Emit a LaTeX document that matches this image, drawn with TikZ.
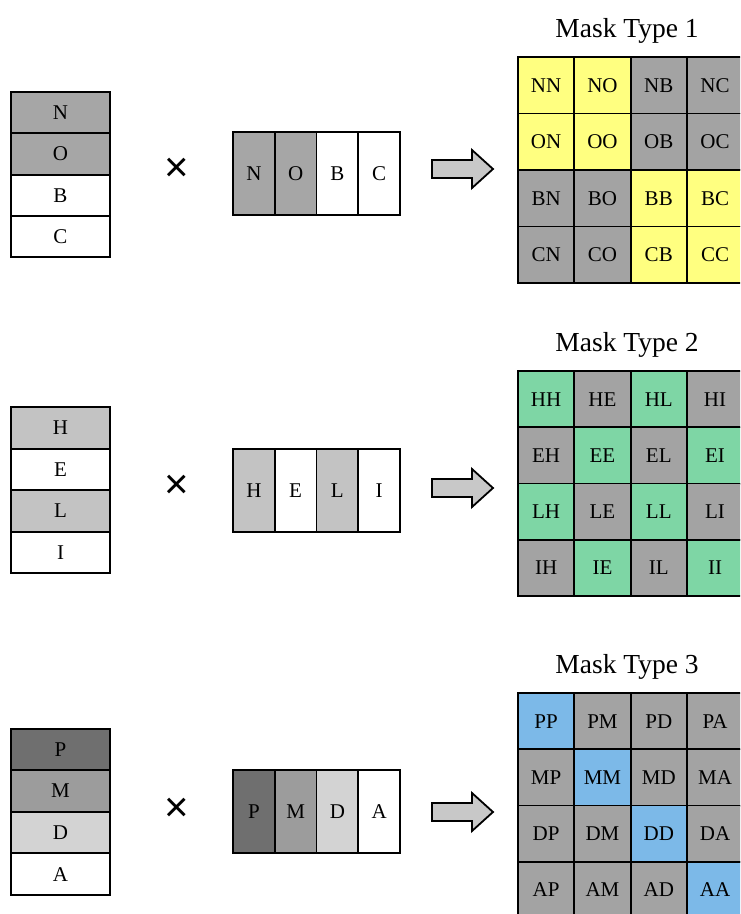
\documentclass[tikz,border=0pt]{standalone}
\usepackage{fontspec}
\setmainfont{Liberation Serif}
\newfontfamily\symfont{Liberation Sans}
\definecolor{gA}{HTML}{A6A6A6}
\definecolor{gL}{HTML}{C3C3C3}
\definecolor{gD}{HTML}{6F6F6F}
\definecolor{gM}{HTML}{9C9C9C}
\definecolor{gP}{HTML}{D3D3D3}
\definecolor{gridgray}{HTML}{A3A3A3}
\definecolor{mY}{HTML}{FFFF80}
\definecolor{mG}{HTML}{7ED6A5}
\definecolor{mB}{HTML}{7CB9E8}
\definecolor{arrowfill}{HTML}{C8C8C8}
\tikzset{
  lbl/.style={font=\fontsize{21}{21}\selectfont},
  vcell/.style={draw, line width=1.8pt, minimum width=99pt, minimum height=41.3pt, inner sep=0pt, lbl},
  hcell/.style={draw, line width=1.8pt, minimum width=41.75pt, minimum height=83pt, inner sep=0pt, lbl},
  gcell/.style={draw, line width=1.8pt, minimum width=56.3pt, minimum height=56.5pt, inner sep=0pt, lbl},
  title/.style={font=\fontsize{27.5}{27.5}\selectfont, anchor=base, inner sep=0pt},
  timessign/.style={font=\symfont\fontsize{42}{42}\selectfont, inner sep=0pt},
  barrow/.pic={\draw[line width=1.8pt, fill=arrowfill, line join=miter]
     (0,-9) -- (40,-9) -- (40,-19) -- (61,0) -- (40,19) -- (40,9) -- (0,9) -- cycle;}
}
\begin{document}
\begin{tikzpicture}[x=1pt,y=-1pt]
\useasboundingbox (0,0) rectangle (740,914);
\clip (0,0) rectangle (740,914);
\fill[white] (0,0) rectangle (740,914);

% ---------- Row 1 ----------
\foreach \l/\f [count=\i] in {N/gA,O/gA,B/white,C/white} {
  \node[vcell, fill=\f] (va\i) at (60.5, {92+41.3*\i-20.65}) {\l};
  \node[hcell, fill=\f] (ha\i) at ({233+41.75*\i-20.875}, 173.5) {\l};
}
\node[timessign] (xa) at (177,170) {×};
\pic at (432,169) {barrow};
\node[title] (ta) at (627,37.5) {Mask Type 1};
\foreach \a [count=\i] in {N,O,B,C} {
  \foreach \b [count=\j] in {N,O,B,C} {
    \pgfmathtruncatemacro\m{((\i<3) && (\j<3)) || ((\i>2) && (\j>2))}
    \ifnum\m=1 \def\fc{mY}\else\def\fc{gridgray}\fi
    \node[gcell, fill=\fc] (ga\i\j) at ({518+56.3*(\j-0.5)}, {57+56.5*(\i-0.5)}) {\a\b};
  }
}

% ---------- Row 2 ----------
\foreach \l/\f [count=\i] in {H/gL,E/white,L/gL,I/white} {
  \node[vcell, fill=\f] (vb\i) at (60.5, {407+41.5*\i-20.75}) {\l};
  \node[hcell, fill=\f] (hb\i) at ({233+41.75*\i-20.875}, 490.5) {\l};
}
\node[timessign] (xb) at (177,487) {×};
\pic at (432,488) {barrow};
\node[title] (tb) at (627,351.5) {Mask Type 2};
\foreach \a [count=\i] in {H,E,L,I} {
  \foreach \b [count=\j] in {H,E,L,I} {
    \pgfmathtruncatemacro\m{mod(\i+\j,2)==0}
    \ifnum\m=1 \def\fc{mG}\else\def\fc{gridgray}\fi
    \node[gcell, fill=\fc] (gb\i\j) at ({518+56.3*(\j-0.5)}, {371+56.3*(\i-0.5)}) {\a\b};
  }
}

% ---------- Row 3 ----------
\foreach \l/\f [count=\i] in {P/gD,M/gM,D/gP,A/white} {
  \node[vcell, fill=\f] (vc\i) at (60.5, {728.5+41.6*\i-20.8}) {\l};
  \node[hcell, fill=\f] (hc\i) at ({233+41.75*\i-20.875}, 811.5) {\l};
}
\node[timessign] (xc) at (177,810) {×};
\pic at (432,812) {barrow};
\node[title] (tc) at (627,673.5) {Mask Type 3};
\foreach \a [count=\i] in {P,M,D,A} {
  \foreach \b [count=\j] in {P,M,D,A} {
    \pgfmathtruncatemacro\m{\i==\j}
    \ifnum\m=1 \def\fc{mB}\else\def\fc{gridgray}\fi
    \node[gcell, fill=\fc] (gc\i\j) at ({518+56.3*(\j-0.5)}, {693+56.3*(\i-0.5)}) {\a\b};
  }
}
\end{tikzpicture}
\end{document}
